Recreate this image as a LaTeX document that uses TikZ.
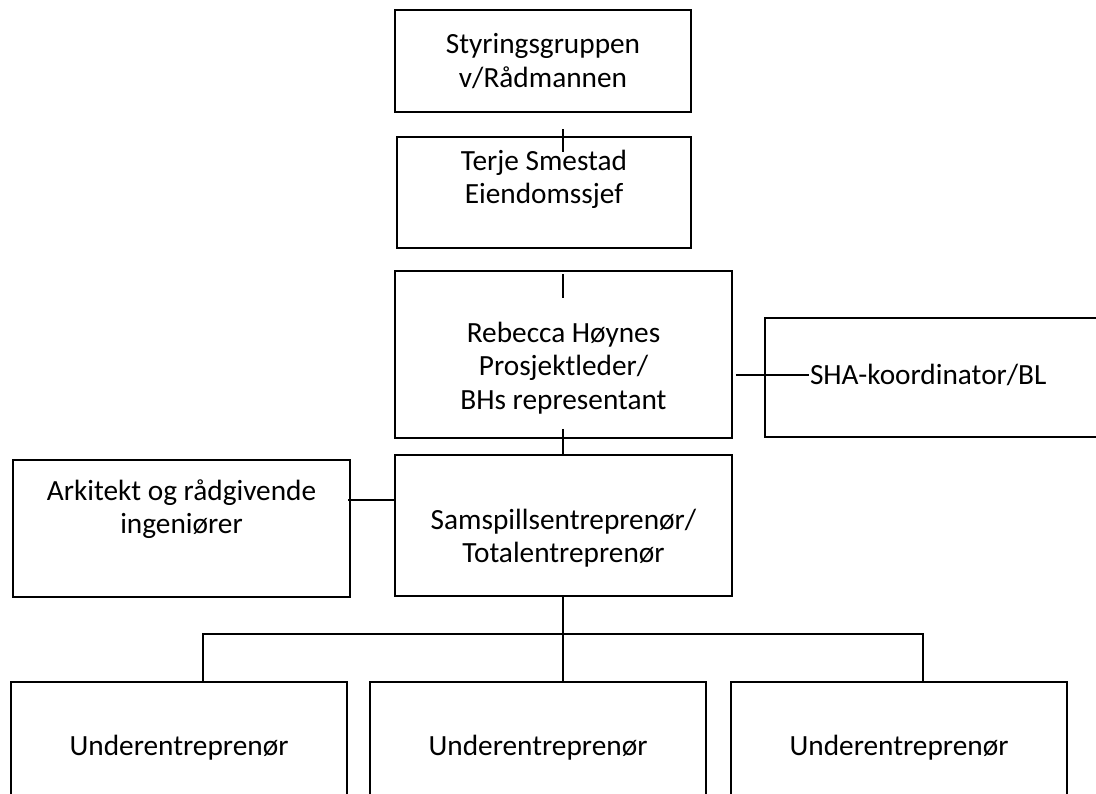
\documentclass[tikz,border=0pt]{standalone}
\usepackage{fontspec}
\setmainfont{Carlito}

\begin{document}
\begin{tikzpicture}[x=1pt, y=-1pt, line width=1.8pt,
  box/.style={rectangle, draw=black, inner sep=0pt},
  txt/.style={align=center, inner sep=0pt, font=\fontsize{29.3}{33.5}\selectfont}]
  \useasboundingbox (0,0) rectangle (1096,794);
  % boxes
  \node[box, minimum width=296, minimum height=102] (styr) at (543,61) {};
  \node[txt] (styrT) at (styr.center) {Styringsgruppen\\v/Rådmannen};
  \node[box, minimum width=294, minimum height=111] (terje) at (544,192.5) {};
  \node[txt] (terjeT) at ([shift={(0,-13)}]terje.center) {Terje Smestad\\Eiendomssjef};
  \node[box, minimum width=337, minimum height=167] (reb) at (563.5,354.5) {};
  \node[txt] (rebT) at ([shift={(0,13.5)}]reb.center) {Rebecca Høynes\\Prosjektleder/\\BHs representant};
  \node[box, minimum width=345, minimum height=119] (sha) at (937.5,377.5) {};
  \node[txt, anchor=west] (shaT) at ([shift={(45,-2.5)}]sha.west) {SHA-koordinator/BL};
  \node[box, minimum width=337, minimum height=137] (ark) at (181.5,528.5) {};
  \node[txt] (arkT) at ([shift={(0,-19.5)}]ark.center) {Arkitekt og rådgivende\\ingeniører};
  \node[box, minimum width=337, minimum height=141] (samsp) at (563.5,525.5) {};
  \node[txt] (samspT) at ([shift={(0,12.5)}]samsp.center) {Samspillsentreprenør/\\Totalentreprenør};
  \node[box, minimum width=336, minimum height=132] (und1) at (179,748) {};
  \node[box, minimum width=336, minimum height=132] (und2) at (538,748) {};
  \node[box, minimum width=336, minimum height=132] (und3) at (899,748) {};
  \node[txt] (und1T) at (und1.center) {Underentreprenør};
  \node[txt] (und2T) at (und2.center) {Underentreprenør};
  \node[txt] (und3T) at (und3.center) {Underentreprenør};
  % connectors
  \draw ([shift={(19,-7)}]terje.north) -- ++(0,23);
  \draw ([shift={(-0.5,4)}]reb.north) -- ++(0,24);
  \draw ([shift={(-0.5,-10)}]reb.south) -- ([xshift=-0.5pt]samsp.north);
  \draw ([xshift=3pt]reb.east |- shaT.west) -- (shaT.west);
  \draw ([shift={(0,-25.5)}]samsp.west) -- ([shift={(-3,-28.5)}]ark.east);
  \coordinate (bus) at (563,634);
  \draw ([xshift=-0.5pt]samsp.south) -- (bus |- und2.north);
  \draw ([shift={(24,0)}]und1.north) |- (bus) -| ([shift={(24,0)}]und3.north);
\end{tikzpicture}
\end{document}
